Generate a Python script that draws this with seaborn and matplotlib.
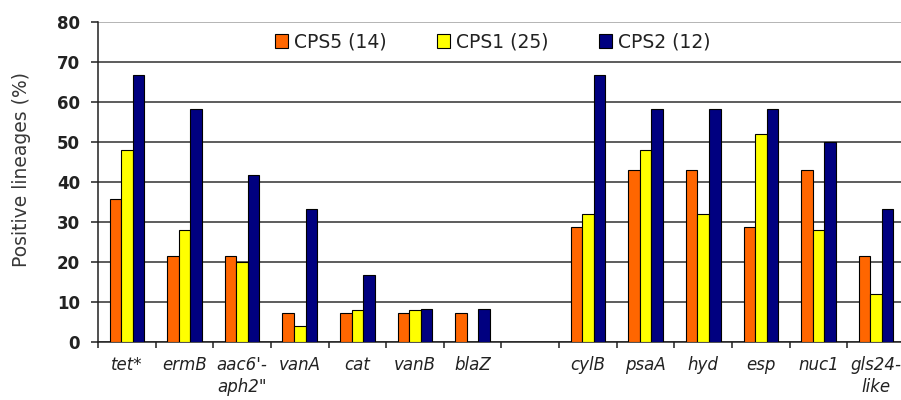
import matplotlib
matplotlib.use("Agg")
import matplotlib.pyplot as plt
import seaborn as sns
import pandas as pd

genes = ["tet*", "ermB", "aac6'-\naph2\"", "vanA", "cat", "vanB", "blaZ", "",
         "cylB", "psaA", "hyd", "esp", "nuc1", "gls24-\nlike"]
groups = ["CPS5 (14)", "CPS1 (25)", "CPS2 (12)"]
cps5 = [35.7, 21.4, 21.4, 7.1, 7.1, 7.1, 7.1, None, 28.6, 42.9, 42.9, 28.6, 42.9, 21.4]
cps1 = [48.0, 28.0, 20.0, 4.0, 8.0, 8.0, 0.0, None, 32.0, 48.0, 32.0, 52.0, 28.0, 12.0]
cps2 = [66.7, 58.3, 41.7, 33.3, 16.7, 8.3, 8.3, None, 66.7, 58.3, 58.3, 58.3, 50.0, 33.3]
colors = ["#FF6600", "#FFFF00", "#000080"]

rows = []
for g, vals in zip(groups, [cps5, cps1, cps2]):
    for gene, v in zip(genes, vals):
        if v is not None:
            rows.append({"gene": gene, "group": g, "pct": v})
df = pd.DataFrame(rows)

sns.set_style("white")
plt.rcParams["font.family"] = ["DejaVu Sans"]

fig = plt.figure(figsize=(9.01, 4.0), dpi=100)
ax = fig.add_axes([98 / 901, 58.3 / 400, 807 / 901, 320 / 400])

sns.barplot(data=df, x="gene", y="pct", hue="group", order=genes, hue_order=groups,
            palette=colors, saturation=1, width=0.6, edgecolor="black", linewidth=0.8,
            errorbar=None, ax=ax, zorder=3)

ax.set_xlim(-0.5, len(genes) - 0.5)
ax.set_ylim(0, 80)
ax.set_yticks(range(0, 81, 10))
ax.yaxis.grid(True, color="#303030", linewidth=1.1, zorder=0)
ax.xaxis.grid(False)
ax.set_axisbelow(True)
ax.get_ygridlines()[-1].set_color("#a0a0a0")

for s in ["top", "right"]:
    ax.spines[s].set_visible(False)
for s in ["left", "bottom"]:
    ax.spines[s].set_color("#202020")
    ax.spines[s].set_linewidth(1.1)

ax.set_xticks(range(len(genes)))
ax.set_xticklabels(genes, fontstyle="italic", fontsize=12, color="#222222", linespacing=1.35,
                   va="top")
ax.tick_params(axis="x", which="major", length=0, pad=10)
ax.set_xticks([i - 0.5 for i in range(len(genes) + 1)], minor=True)
ax.tick_params(axis="x", which="minor", length=4.5, width=1.1, color="#202020", direction="out",
               bottom=True)
ax.tick_params(axis="y", length=5, width=1.1, color="#202020", direction="out", left=True, pad=8)
for t in ax.get_yticklabels():
    t.set_fontweight("bold")
    t.set_fontsize(12)
    t.set_color("#222222")

ax.set_xlabel("")
ax.set_ylabel("Positive lineages (%)", fontsize=13.5, color="#383838")
ax.yaxis.set_label_coords(-0.083, 0.537)

handles, labels = ax.get_legend_handles_labels()
ax.legend(handles, labels, loc="center", bbox_to_anchor=(0.547, 0.895),
          bbox_transform=fig.transFigure, ncol=3, frameon=False, fontsize=13.5,
          handlelength=0.7, handleheight=0.7, handletextpad=0.3, columnspacing=2.7,
          labelcolor="#222222")

fig.savefig("out.png", dpi=100)
